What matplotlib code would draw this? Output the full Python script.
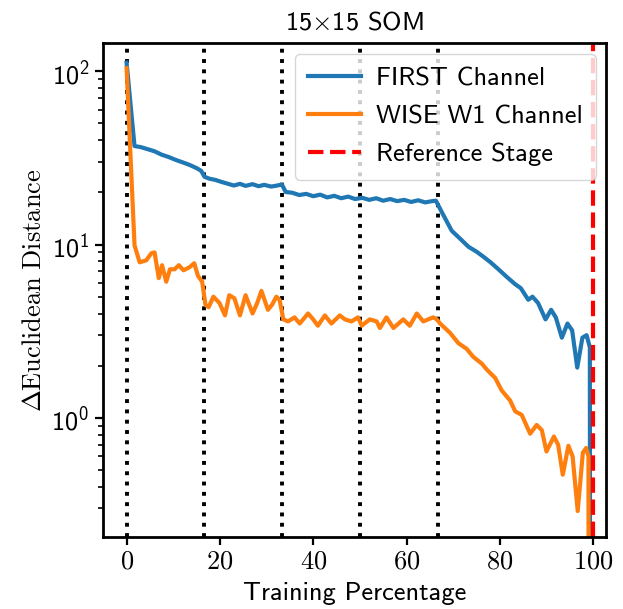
import os
import numpy as np
import matplotlib
matplotlib.use("Agg")
import matplotlib.pyplot as plt
from matplotlib import font_manager as fm

# computer modern sans ships with matplotlib
fm.fontManager.addfont(os.path.join(matplotlib.get_data_path(), 'fonts', 'ttf', 'cmss10.ttf'))
plt.rcParams['mathtext.fontset'] = 'cm'
plt.rcParams['font.family'] = ['cmss10', 'DejaVu Sans']
plt.rcParams['axes.unicode_minus'] = False

# data
first_x = [0, 1.7, 3, 4.5, 6, 7.5, 9, 10.5, 12, 13.5, 15, 16.0, 16.7, 17.7, 19, 20.3,
           21.5, 23, 24.3, 25.5, 27, 28.3, 29.5, 31, 32.3, 33.3, 34.1, 35.5, 37, 38.5,
           40, 41.5, 43, 44.5, 46, 47.5, 49, 50.5, 52, 53.5, 55, 56.5, 58, 59.5, 61,
           62.5, 64, 65.5, 66.3, 67.5, 69.7, 71.5, 73.3, 75, 76.5, 78, 79.7, 81.5,
           83.3, 84.5, 86.1, 87, 88.2, 89.8, 91, 92, 93.3, 94.5, 95.5, 96.6, 97.7,
           98.6, 99.3, 99.4]
first_y = [112, 37, 36.5, 35.5, 34.5, 33, 32, 30.8, 29.8, 28.8, 27.6, 26.6, 24.6, 24.0,
           23.6, 23.0, 22.5, 21.9, 22.4, 21.8, 22.3, 21.7, 22.1, 21.6, 21.9, 22.2, 20.1,
           19.9, 19.3, 19.6, 19.0, 19.4, 18.7, 19.1, 18.5, 18.9, 18.3, 18.6, 18.1, 18.5,
           17.9, 18.3, 17.8, 18.1, 17.6, 18.0, 17.5, 17.8, 17.9, 15.5, 12.0, 10.8, 9.7,
           9.1, 8.5, 7.9, 7.2, 6.5, 5.9, 5.6, 4.8, 5.0, 4.6, 3.7, 4.2, 3.8, 2.9, 3.5,
           3.2, 1.95, 2.9, 3.0, 2.55, 1e-3]

wise_x = [0, 1.7, 2.8, 4.2, 5.3, 6.0, 6.9, 7.6, 8.5, 9.3, 10.3, 11.2, 12.2, 13.5, 14.5,
          15.3, 16.2, 16.9, 17.6, 18.6, 19.9, 21.1, 22.0, 23.1, 24.3, 25.5, 27.0, 28.0,
          28.9, 30.3, 31.2, 32.1, 32.8, 33.6, 34.6, 36.0, 37.1, 38.9, 40.0, 41.0, 42.5,
          43.9, 45.7, 46.8, 48.2, 49.6, 50.4, 52.1, 53.6, 54.3, 55.7, 57.2, 59.3, 60.7,
          62.2, 63.6, 65.7, 66.5, 67.2, 69.3, 71.1, 72.9, 74.3, 76.1, 77.2, 79.0, 80.4,
          82.2, 83.3, 84.7, 86.5, 87.9, 89.0, 90.0, 91.6, 92.5, 93.5, 94.7, 95.6, 96.7,
          97.8, 98.5, 99.0, 99.1]
wise_y = [104, 9.9, 7.9, 8.1, 8.9, 9.0, 6.4, 7.6, 6.1, 7.2, 7.2, 7.6, 7.1, 7.4, 7.8,
          6.6, 6.1, 4.5, 4.35, 5.0, 4.6, 3.9, 5.1, 4.9, 3.9, 5.1, 4.0, 4.6, 5.4, 4.2,
          4.5, 5.0, 4.8, 3.7, 3.6, 3.8, 3.5, 4.0, 3.7, 3.4, 3.9, 3.5, 3.9, 3.7, 3.6,
          3.8, 3.4, 3.7, 3.6, 3.3, 3.8, 3.3, 3.7, 3.4, 4.0, 3.6, 3.8, 3.7, 3.5, 3.1,
          2.7, 2.5, 2.25, 2.06, 1.9, 1.7, 1.44, 1.26, 1.09, 1.04, 0.81, 0.91, 0.85,
          0.64, 0.78, 0.7, 0.47, 0.69, 0.6, 0.29, 0.63, 0.67, 0.60, 1e-3]

stages = [0, 100 / 6, 200 / 6, 50, 400 / 6]
ref_stage = 100
xticks = [0, 20, 40, 60, 80, 100]

fig = plt.figure(figsize=(6.23, 6.09), dpi=100)
ax = fig.add_axes([0.165, 0.118, 0.808, 0.811])

for s in stages:
    ax.axvline(s, color='k', linestyle=':', linewidth=2.8)
ax.plot(first_x, first_y, color='#1f77b4', linewidth=3, label='FIRST Channel')
ax.plot(wise_x, wise_y, color='#ff7f0e', linewidth=3, label='WISE W1 Channel')
ax.axvline(ref_stage, color='red', linestyle='--', linewidth=3, label='Reference Stage')

ax.set_yscale('log')
ax.set_xlim(-5.1, 102.8)
ax.set_ylim(0.205, 145)
ax.set_xticks(xticks)
ax.set_xticklabels([r'$%d$' % v for v in xticks])

ax.tick_params(labelsize=19, width=1.6, length=6)
ax.tick_params(which='minor', width=1.2, length=3.5)
for sp in ax.spines.values():
    sp.set_linewidth(2)

ax.set_xlabel('Training Percentage', fontsize=19, labelpad=6)
ax.set_ylabel(r'$\Delta\mathrm{Euclidean\ Distance}$', fontsize=19, labelpad=4)
ax.set_title(r'15$\times$15 SOM', fontsize=19, pad=10)
ax.legend(loc='upper right', fontsize=19, handlelength=2.0, borderpad=0.5,
          labelspacing=0.55, handletextpad=0.55, borderaxespad=0.4)

fig.savefig('out.png', dpi=100)
